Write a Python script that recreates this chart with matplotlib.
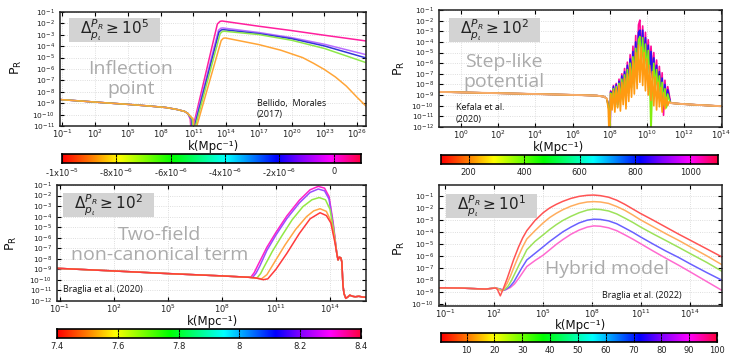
import numpy as np
import matplotlib
matplotlib.use('Agg')
import matplotlib.pyplot as plt
from matplotlib.colors import LinearSegmentedColormap
from matplotlib.patches import Rectangle
from matplotlib.ticker import NullLocator, FixedLocator

W, H = 753, 359

# ================= DATA (log10 k , log10 P_R) =================
# ---- Panel 1 : Inflection point ----
p1_base_x = [-1.2, 1, 3, 5, 7, 8.5, 9.5, 10.2, 10.5]
p1_base_y = [-8.68, -8.83, -8.97, -9.1, -9.25, -9.38, -9.55, -9.72, -9.9]
p1_pink_x = [10.72, 10.9, 11.0, 13.2, 13.45, 13.63, 17, 20, 23, 26.8]
p1_pink_y = [-10.4, -13, -11.0, -2.05, -1.82, -1.79, -2.25, -2.63, -3.04, -3.54]
p1_purple_x = [10.78, 10.97, 11.06, 13.3, 13.52, 13.7, 17, 20, 23, 26.8]
p1_purple_y = [-10.4, -13, -11.0, -2.6, -2.42, -2.40, -2.8, -3.25, -3.83, -4.74]
p1_blue_x = [10.84, 11.03, 11.12, 13.35, 13.57, 13.75, 17, 20, 23, 26.8]
p1_blue_y = [-10.4, -13, -11.0, -2.75, -2.57, -2.55, -2.9, -3.34, -3.98, -5.03]
p1_green_x = [10.9, 11.1, 11.2, 13.45, 13.65, 13.85, 17, 20, 23, 26.8]
p1_green_y = [-10.4, -13, -11.0, -2.9, -2.71, -2.69, -2.98, -3.48, -4.2, -5.44]
p1_orange_x = [11.0, 11.2, 11.32, 13.55, 13.75, 13.95, 17, 19, 21, 22, 23, 24, 25, 26, 26.8]
p1_orange_y = [-10.4, -13, -11.0, -3.5, -3.3, -3.28, -3.86, -4.35, -5.0, -5.5, -6.05, -6.7, -7.5, -8.5, -9.25]
p1_cb_ticks = [-1e-5, -8e-6, -6e-6, -4e-6, -2e-6, 0]
p1_cb_labels = ['-1x10$^{-5}$', '-8x10$^{-6}$', '-6x10$^{-6}$', '-4x10$^{-6}$', '-2x10$^{-6}$', '0']

# ---- Panel 2 : Step-like potential ----
p2_left_x = [-1.2, 3.0, 6.0, 7.3, 7.7, 7.85]
p2_left_y = [-8.7, -8.86, -8.98, -9.05, -9.15, -9.35]
p2_dip_y = [-10.3, -13.0]
p2_pink_dip_x = [7.97, 8.02]
p2_blue_dip_x = [7.96, 8.01]
p2_green_dip_x = [7.95, 8.0]
p2_orange_dip_x = [7.92, 7.97]
p2_osc_x = [8.05, 8.125, 8.2, 8.275, 8.35, 8.425, 8.5, 8.575, 8.65, 8.725, 8.8, 8.875,
            8.95, 9.025, 9.1, 9.175, 9.25, 9.325, 9.4, 9.475, 9.55, 9.625, 9.7, 9.775,
            9.85, 9.925, 10.0, 10.075, 10.15, 10.225, 10.3, 10.375, 10.45, 10.525, 10.6,
            10.675, 10.75, 10.825, 10.9, 10.975, 11.05, 11.125, 11.2]
p2_pink_y = [-8.6, -9.6, -8.1, -9.4, -7.9, -9.7, -7.5, -9.2, -7.0, -8.9, -6.5, -8.6, -5.9, -8.3,
             -5.2, -7.6, -4.4, -7.0, -3.4, -6.4, -2.4, -1.95, -5.3, -2.5, -5.6, -3.1, -6.0, -3.8,
             -6.5, -4.4, -7.0, -5.0, -7.6, -5.7, -8.2, -6.3, -8.8, -6.9, -10.9, -7.6, -9.6, -8.2, -8.9]
p2_blue_y = [-8.7, -9.8, -8.2, -9.6, -8.0, -9.9, -7.7, -9.4, -7.2, -9.1, -6.8, -8.8, -6.2, -8.5,
             -5.6, -7.9, -4.9, -7.3, -4.0, -6.7, -3.1, -2.9, -5.7, -2.9, -6.0, -3.6, -6.4, -4.3,
             -6.9, -4.9, -7.4, -5.5, -8.0, -6.2, -8.6, -6.8, -9.2, -7.4, -9.6, -8.0, -10.0, -8.5, -9.2]
p2_green_y = [-8.8, -10.0, -8.4, -9.8, -8.2, -10.1, -7.9, -9.6, -7.5, -9.4, -7.1, -9.1, -6.6, -8.8,
              -6.0, -8.3, -5.4, -7.8, -4.6, -7.2, -3.8, -3.5, -6.1, -3.6, -6.5, -4.2, -6.9, -4.8,
              -7.4, -12.5, -7.9, -6.0, -8.4, -6.6, -8.9, -7.2, -9.5, -7.8, -9.9, -8.4, -10.2, -8.9, -9.4]
p2_orange_y = [-8.9, -10.4, -8.6, -10.6, -8.4, -10.2, -8.1, -10.5, -7.8, -9.9, -7.4, -10.3, -7.0, -9.6,
               -6.4, -9.2, -5.8, -8.9, -5.0, -8.4, -4.3, -7.8, -4.5, -8.1, -5.0, -8.6, -5.6, -9.0,
               -6.2, -9.5, -6.8, -10.0, -7.3, -10.4, -7.8, -10.1, -8.3, -10.6, -8.8, -10.3, -9.2, -10.0, -9.6]
p2_right_x = [11.28, 12.0, 13.0, 14.1]
p2_right_y = [-9.75, -9.85, -9.95, -10.05]
p2_cb_ticks = [200, 400, 600, 800, 1000]

# ---- Panel 3 : Two-field non-canonical term ----
p3_base_x = [-1.15, 2.0, 5.0, 8.0, 9.5]
p3_base_y = [-8.9, -9.15, -9.4, -9.62, -9.75]
p3_magenta_x = [9.6, 9.8, 10.0, 10.5, 11.0, 11.6, 12.3, 12.9, 13.35, 13.7, 13.95, 14.18, 14.37]
p3_magenta_y = [-9.76, -9.3, -8.6, -6.9, -5.5, -3.95, -2.45, -1.45, -1.13, -1.3, -2.1, -4.6, -7.3]
p3_purple_x = [9.7, 9.9, 10.1, 10.5, 11.0, 11.6, 12.3, 12.9, 13.35, 13.7, 13.95, 14.18, 14.37]
p3_purple_y = [-9.78, -9.35, -8.7, -7.2, -5.75, -4.2, -2.7, -1.7, -1.38, -1.55, -2.35, -4.8, -7.4]
p3_green_x = [9.95, 10.15, 10.3, 10.8, 11.3, 11.9, 12.5, 13.0, 13.4, 13.75, 14.0, 14.2, 14.38]
p3_green_y = [-9.82, -9.4, -8.9, -7.3, -5.9, -4.3, -3.05, -2.4, -2.19, -2.4, -3.3, -5.2, -7.5]
p3_orange_x = [9.9, 10.2, 10.5, 11.0, 11.5, 12.1, 12.7, 13.1, 13.45, 13.8, 14.05, 14.25, 14.4]
p3_orange_y = [-9.82, -9.9, -9.5, -8.1, -6.7, -5.2, -4.0, -3.45, -3.25, -3.5, -4.4, -6.0, -7.7]
p3_red_x = [9.9, 10.3, 10.55, 11.0, 11.6, 12.3, 12.9, 13.45, 13.8, 14.05, 14.28, 14.42]
p3_red_y = [-9.82, -9.98, -9.9, -9.0, -7.5, -5.6, -4.2, -3.63, -3.9, -4.6, -6.5, -7.9]
p3_tail_x = [14.45, 14.52, 14.6, 14.66, 14.72, 14.78, 14.88, 15.0, 15.1, 15.25, 15.4, 15.6, 15.8, 16.0]
p3_tail_y = [-8.1, -7.85, -7.9, -8.3, -10.5, -11.3, -11.75, -11.6, -11.45, -11.55, -11.6, -11.55, -11.62, -11.65]
p3_cb_ticks = [7.4, 7.6, 7.8, 8.0, 8.2, 8.4]
p3_cb_labels = ['7.4', '7.6', '7.8', '8', '8.2', '8.4']

# ---- Panel 4 : Hybrid model ----
p4_base_x = [-1.37, 0.0, 1.0, 1.5, 1.9, 2.1]
p4_base_y = [-8.68, -8.7, -8.76, -8.78, -8.72, -8.7]
p4_red_x = [2.2, 2.38, 2.55, 2.8, 3.0, 3.2, 3.5, 3.75, 4.0, 4.5, 5.0, 5.4, 5.8, 6.2, 6.7, 7.2, 7.7,
            8.1, 8.5, 9.0, 9.5, 10.0, 10.5, 10.94, 11.7, 12.5, 13.3, 14.0, 15.0, 15.94]
p4_red_y = [-8.8, -9.35, -8.8, -7.9, -7.1, -6.3, -5.25, -4.5, -3.9, -3.05, -2.4, -2.0, -1.7, -1.45,
            -1.2, -1.03, -0.94, -0.92, -0.97, -1.1, -1.35, -1.7, -2.1, -2.45, -3.0, -3.6, -4.2, -4.7,
            -5.42, -6.1]
p4_orange_x = [2.25, 2.45, 2.6, 2.8, 3.0, 3.2, 3.5, 3.75, 4.0, 4.5, 5.0, 5.4, 5.8, 6.2, 6.7, 7.2, 7.7,
               8.1, 8.5, 9.0, 9.5, 10.0, 10.5, 10.94, 11.7, 12.5, 13.3, 14.0, 15.0, 15.94]
p4_orange_y = [-8.78, -8.95, -8.75, -8.3, -7.7, -7.0, -6.0, -5.25, -4.6, -3.9, -3.25, -2.8, -2.45,
               -2.15, -1.85, -1.63, -1.5, -1.47, -1.5, -1.62, -1.88, -2.2, -2.6, -2.98, -3.55, -4.15,
               -4.72, -5.25, -6.0, -6.75]
p4_green_x = [2.3, 2.5, 2.65, 2.85, 3.05, 3.3, 3.55, 3.8, 4.0, 4.5, 5.0, 5.4, 5.8, 6.2, 6.7, 7.2, 7.7,
              8.1, 8.5, 9.0, 9.5, 10.0, 10.5, 10.94, 11.7, 12.5, 13.3, 14.0, 15.0, 15.94]
p4_green_y = [-8.78, -8.92, -8.8, -8.55, -8.1, -7.4, -6.7, -6.05, -5.5, -4.8, -4.25, -3.8, -3.4,
              -3.05, -2.7, -2.4, -2.18, -2.1, -2.13, -2.25, -2.5, -2.85, -3.22, -3.58, -4.15, -4.72,
              -5.3, -5.82, -6.55, -7.3]
p4_blue_x = [2.35, 2.55, 2.7, 2.95, 3.2, 3.45, 3.7, 4.0, 4.5, 5.0, 5.4, 5.8, 6.2, 6.7, 7.2, 7.7,
             8.1, 8.5, 9.0, 9.5, 10.0, 10.5, 10.94, 11.7, 12.5, 13.3, 14.0, 15.0, 15.94]
p4_blue_y = [-8.78, -8.9, -8.82, -8.6, -8.2, -7.6, -7.0, -6.35, -5.8, -5.25, -4.8, -4.4, -4.0, -3.6,
             -3.25, -3.02, -2.94, -2.96, -3.08, -3.32, -3.68, -4.05, -4.41, -5.0, -5.6, -6.15, -6.68,
             -7.4, -8.05]
p4_pink_x = [2.4, 2.6, 2.75, 3.0, 3.25, 3.5, 3.75, 4.0, 4.5, 5.0, 5.4, 5.8, 6.2, 6.7, 7.2, 7.7,
             8.1, 8.5, 9.0, 9.5, 10.0, 10.5, 10.94, 11.7, 12.5, 13.3, 14.0, 15.0, 15.94]
p4_pink_y = [-8.78, -8.88, -8.82, -8.65, -8.35, -7.9, -7.4, -6.9, -6.4, -5.95, -5.5, -5.05, -4.65,
             -4.2, -3.85, -3.6, -3.5, -3.53, -3.66, -3.9, -4.25, -4.62, -4.97, -5.58, -6.2, -6.8,
             -7.35, -8.15, -8.9]
p4_cb_ticks = [10, 20, 30, 40, 50, 60, 70, 80, 90, 100]

# ================= FIGURE =================
fig = plt.figure(figsize=(W / 100, H / 100), dpi=100)
fig.patch.set_facecolor('white')


def rect(x0, y0, x1, y1):
    return [x0 / W, 1 - y1 / H, (x1 - x0) / W, (y1 - y0) / H]


def fx(x):
    return x / W


def fy(y):
    return 1 - y / H


cmap = LinearSegmentedColormap.from_list(
    'gp', [(0.0, '#ff0000'), (0.1, '#ff8000'), (0.19, '#ffff00'), (0.37, '#00ff00'),
           (0.55, '#00ffff'), (0.72, '#0000ff'), (0.8, '#8000ff'), (0.9, '#ff00ff'),
           (1.0, '#ff0040')])


def make_panel(box, xlim, ylim, xt, yt):
    ax = fig.add_axes(rect(*box))
    ax.set_xscale('log')
    ax.set_yscale('log')
    ax.set_xlim(10.0 ** xlim[0], 10.0 ** xlim[1])
    ax.set_ylim(10.0 ** ylim[0], 10.0 ** ylim[1])
    ax.xaxis.set_major_locator(FixedLocator([10.0 ** t for t in xt]))
    ax.yaxis.set_major_locator(FixedLocator([10.0 ** t for t in yt]))
    ax.xaxis.set_minor_locator(NullLocator())
    ax.yaxis.set_minor_locator(NullLocator())
    ax.set_xticklabels([r'$10^{%d}$' % t for t in xt])
    ax.set_yticklabels([r'$10^{%d}$' % t for t in yt])
    ax.tick_params(axis='x', direction='in', top=True, bottom=True, length=3, width=0.8,
                   labelsize=6.0, pad=1.0, labelcolor='#222222')
    ax.tick_params(axis='y', direction='in', left=True, right=True, length=3, width=0.8,
                   labelsize=5.4, pad=3.8, labelcolor='#222222')
    ax.grid(True, color='#d4d4d4', ls=':', lw=0.6)
    for s in ax.spines.values():
        s.set_linewidth(1.1)
        s.set_color('#222222')
    return ax


def curve(ax, xs, ys, color, lw=1.1):
    ax.plot(10.0 ** np.asarray(xs, float), 10.0 ** np.asarray(ys, float), color=color, lw=lw,
            solid_joinstyle='round')


def make_cbar(box, vmin, vmax, ticks, labels):
    cax = fig.add_axes(rect(*box))
    cax.imshow(np.linspace(0, 1, 512)[None, :], cmap=cmap, aspect='auto',
               extent=[vmin, vmax, 0, 1], interpolation='bilinear')
    cax.set_xlim(vmin, vmax)
    cax.set_ylim(0, 1)
    cax.set_yticks([])
    cax.set_xticks(ticks)
    cax.set_xticklabels(labels)
    cax.tick_params(axis='x', direction='in', top=True, bottom=True, length=2, width=0.8,
                    labelsize=6, pad=2.8, labelcolor='#222222')
    for t in ticks:
        cax.axvline(t, color='k', ls=(0, (2, 1.5)), lw=0.7)
    for s in cax.spines.values():
        s.set_linewidth(1.2)
    return cax


def label_box(x0, y0, x1, y1, txt):
    fig.add_artist(Rectangle((fx(x0), fy(y1)), (x1 - x0) / W, (y1 - y0) / H,
                             transform=fig.transFigure, facecolor='#d3d3d3', edgecolor='none',
                             zorder=5))
    fig.text(fx((x0 + x1) / 2), fy((y0 + y1) / 2), txt, ha='center', va='center',
             fontsize=11, color='#222222', zorder=6)


def grey_text(x, y, txt, size=14):
    fig.text(fx(x), fy(y), txt, ha='center', va='center', fontsize=size, color='#ababab',
             family='Open Sans', linespacing=1.15, zorder=6)


def cite(x, y, txt):
    fig.text(fx(x), fy(y), txt, ha='left', va='center', fontsize=6.5, color='#111111',
             family='Open Sans', linespacing=1.35, zorder=6)


def axis_labels(xl, yl):
    fig.text(fx(xl[0]), fy(xl[1]), 'k(Mpc\u207b\u00b9)', ha='center', va='center', fontsize=8.5,
             color='#111111', family='DejaVu Sans')
    fig.text(fx(yl[0]), fy(yl[1]), r'P$_\mathrm{R}$', ha='center', va='center', fontsize=9,
             rotation=90, color='#111111')


# ---------- Panel 1 ----------
ax1 = make_panel((60, 12, 366, 126), (-1.2, 26.8), (-11, -1), list(range(-1, 27, 3)), list(range(-11, 0)))
for xs, ys, c in [(p1_pink_x, p1_pink_y, '#ff1f9e'), (p1_purple_x, p1_purple_y, '#b86cff'),
                  (p1_blue_x, p1_blue_y, '#3434d8'), (p1_green_x, p1_green_y, '#8ee84a'),
                  (p1_orange_x, p1_orange_y, '#ffa537')]:
    curve(ax1, p1_base_x + xs, p1_base_y + ys, c)
make_cbar((62, 154, 361, 163), -1e-5, 1e-6, p1_cb_ticks, p1_cb_labels)
label_box(69, 18, 160, 42, r'$\Delta_{p_\iota}^{P_R} \geq 10^{5}$')
grey_text(131, 79, 'Inflection\npoint')
cite(257, 109, 'Bellido,  Morales\n(2017)')
axis_labels((213, 146), (16, 67))

# ---------- Panel 2 ----------
ax2 = make_panel((439, 10, 722, 127), (-1.2, 14.05), (-12, -1), list(range(0, 15, 2)), list(range(-12, 0)))
for dx, ys, c in [(p2_pink_dip_x, p2_pink_y, '#ff0a98'), (p2_blue_dip_x, p2_blue_y, '#2a10f0'),
                  (p2_green_dip_x, p2_green_y, '#82ee10'), (p2_orange_dip_x, p2_orange_y, '#ff9a10')]:
    curve(ax2, p2_left_x + dx + p2_osc_x + p2_right_x,
          p2_left_y + p2_dip_y + ys + p2_right_y, c, lw=1.2)
curve(ax2, p2_left_x, p2_left_y, '#f7ab6a', lw=1.4)
curve(ax2, p2_right_x, p2_right_y, '#f7ab6a', lw=1.4)
make_cbar((441, 155, 718, 164), 100, 1100, p2_cb_ticks, [str(t) for t in p2_cb_ticks])
label_box(449, 18, 540, 42, r'$\Delta_{p_\iota}^{P_R} \geq 10^{2}$')
grey_text(504, 72, 'Step-like\npotential')
cite(456, 113.5, 'Kefala et al.\n(2020)')
axis_labels((558, 147.5), (399, 68))

# ---------- Panel 3 ----------
ax3 = make_panel((57, 185, 366, 301), (-1.15, 16.0), (-12, -1), list(range(-1, 15, 3)), list(range(-12, 0)))
for xs, ys, c in [(p3_magenta_x, p3_magenta_y, '#ff1fc8'), (p3_purple_x, p3_purple_y, '#9a4cff'),
                  (p3_green_x, p3_green_y, '#92e845'), (p3_orange_x, p3_orange_y, '#ffa645'),
                  (p3_red_x, p3_red_y, '#ff3b3b')]:
    curve(ax3, p3_base_x + xs + p3_tail_x, p3_base_y + ys + p3_tail_y, c)
make_cbar((57, 329, 361, 338), 7.4, 8.4, p3_cb_ticks, p3_cb_labels)
label_box(63, 193, 154, 217, r'$\Delta_{p_\iota}^{P_R} \geq 10^{2}$')
grey_text(160, 245, 'Two-field\nnon-canonical term')
cite(63, 289, 'Braglia et al. (2020)')
axis_labels((212, 321), (11, 243))

# ---------- Panel 4 ----------
ax4 = make_panel((439, 185, 722, 306), (-1.37, 15.94), (-10.2, -0.08), list(range(-1, 15, 3)), list(range(-10, 0)))
for xs, ys, c in [(p4_pink_x, p4_pink_y, '#ff6ad0'), (p4_blue_x, p4_blue_y, '#6a60ff'),
                  (p4_green_x, p4_green_y, '#9de25a'), (p4_orange_x, p4_orange_y, '#ffad5e'),
                  (p4_red_x, p4_red_y, '#ff5454')]:
    curve(ax4, p4_base_x + xs, p4_base_y + ys, c)
make_cbar((441, 333, 717, 342), 0.8, 100, p4_cb_ticks, [str(t) for t in p4_cb_ticks])
label_box(446, 194, 537, 218, r'$\Delta_{p_\iota}^{P_R} \geq 10^{1}$')
grey_text(607, 269, 'Hybrid model')
cite(602, 295, 'Braglia et al. (2022)')
axis_labels((580, 326), (399, 248))

fig.savefig('out.png', dpi=100, facecolor='white')
